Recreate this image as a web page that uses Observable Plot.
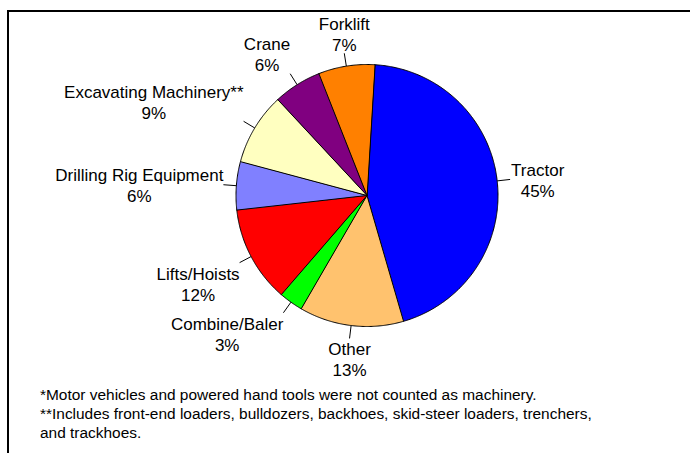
<!DOCTYPE html>
<html><head><meta charset="utf-8">
<script src="https://cdn.jsdelivr.net/npm/d3@7"></script>
<script src="https://cdn.jsdelivr.net/npm/@observablehq/plot@0.6"></script>
<style>
html,body{margin:0;padding:0;background:#fff;overflow:hidden;}
#wrap{position:relative;width:690px;height:453px;overflow:hidden;font-family:"Liberation Sans",Arial,sans-serif;}
#chart{position:absolute;left:0;top:0;}
#frame{position:absolute;left:7px;top:10px;width:800px;height:600px;border-left:2px solid #000;border-top:2px solid #000;pointer-events:none;}
#notes{position:absolute;left:40px;top:384.5px;font-size:15.45px;line-height:19px;color:#000;white-space:nowrap;}
</style></head><body>
<div id="wrap"><div id="chart"></div><div id="notes"></div><div id="frame"></div></div>
<script>
const categories = ["Tractor","Other","Combine/Baler","Lifts/Hoists","Drilling Rig Equipment","Excavating Machinery**","Crane","Forklift"];
const percents = [45,13,3,12,6,9,6,7];
const colors = ["#0000FF","#FFC26E","#00FF00","#FF0000","#8080FF","#FFFFC0","#800080","#FF8000"];
const footnotes = [
  "*Motor vehicles and powered hand tools were not counted as machinery.",
  "**Includes front-end loaders, bulldozers, backhoes, skid-steer loaders, trenchers,",
  "and trackhoes."
];

const W = 690, H = 380, CX = 366.5, CY = 195, R = 131, LEAD = 13;
const FONT = "'Liberation Sans', Arial, sans-serif", FS = 17, LH = 21;

const total = d3.sum(percents);
const start = 3.4 * Math.PI / 180;
let acc = start;
const slices = categories.map((name, i) => {
  const a0 = acc, a1 = acc + percents[i] / total * 2 * Math.PI;
  acc = a1;
  return {name, value: percents[i], color: colors[i], a0, a1, mid: (a0 + a1) / 2};
});

function poly(s) {
  const pts = [{x: 0, y: 0}];
  const n = Math.max(2, Math.ceil((s.a1 - s.a0) / (Math.PI / 360)));
  for (let k = 0; k <= n; k++) {
    const a = s.a0 + (s.a1 - s.a0) * k / n;
    pts.push({x: Math.sin(a), y: Math.cos(a)});
  }
  return pts;
}

const ctx = document.createElement("canvas").getContext("2d");
ctx.font = `${FS}px ${FONT}`;
const tw = t => ctx.measureText(t).width;

const leaders = slices.map(s => ({
  x1: Math.sin(s.mid), y1: Math.cos(s.mid),
  x2: (1 + LEAD / R) * Math.sin(s.mid), y2: (1 + LEAD / R) * Math.cos(s.mid)
}));

const labels = slices.map(s => {
  const sn = Math.sin(s.mid), cs = Math.cos(s.mid);
  const ex = CX + (R + LEAD) * sn, ey = CY - (R + LEAD) * cs;
  const pct = s.value + "%";
  const w = Math.max(tw(s.name), tw(pct));
  let lx = ex, ly = ey;
  if (sn > 0.3) lx = ex + 1 + w / 2; else if (sn < -0.3) lx = ex - w / 2;
  if (cs > 0.3) ly = ey - 20; else if (cs < -0.3) ly = ey + 20.7;
  return {x: (lx - CX) / R, y: (CY - ly) / R, text: s.name + "\n" + pct};
});

const chart = Plot.plot({
  width: W, height: H, margin: 0,
  x: {domain: [-CX / R, (W - CX) / R], axis: null},
  y: {domain: [-(H - CY) / R, CY / R], axis: null},
  style: {fontFamily: FONT, background: "transparent"},
  marks: [
    ...slices.map(s => Plot.line(poly(s), {x: "x", y: "y", fill: s.color, stroke: "#000", strokeWidth: 1, curve: "linear-closed", strokeLinejoin: "round"})),
    Plot.link(leaders, {x1: "x1", y1: "y1", x2: "x2", y2: "y2", stroke: "#000", strokeWidth: 1}),
    Plot.text(labels, {x: "x", y: "y", text: "text", fontSize: FS, lineHeight: LH / FS, textAnchor: "middle", lineAnchor: "middle", fill: "#000"})
  ]
});
document.getElementById("chart").appendChild(chart);
document.getElementById("notes").innerHTML = footnotes.map(t => `<div>${t}</div>`).join("");
</script>
</body></html>
